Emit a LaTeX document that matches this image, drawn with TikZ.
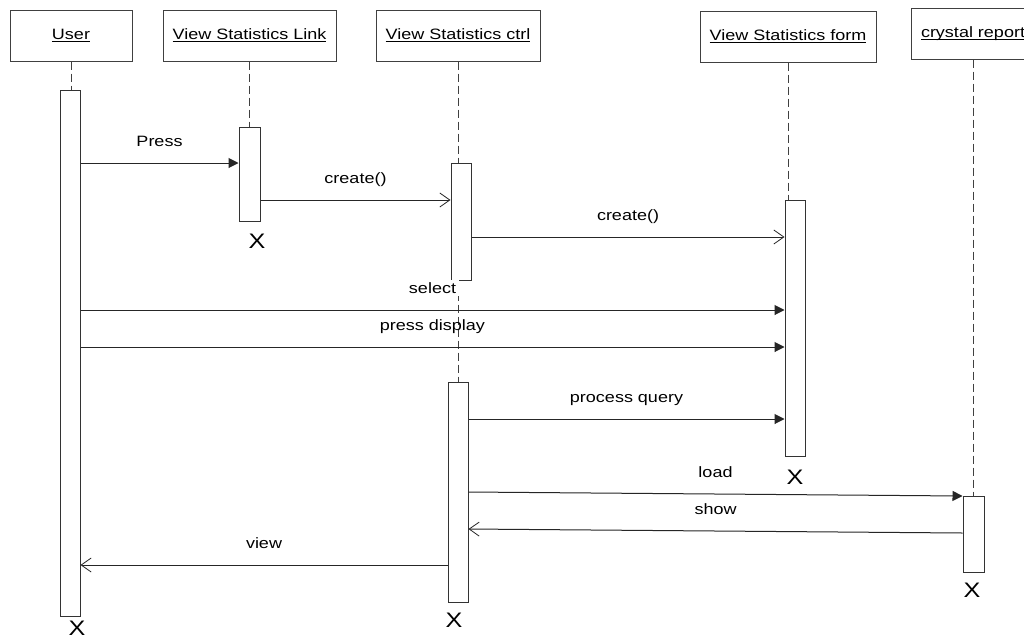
\documentclass[tikz,border=0pt]{standalone}
\usepackage{fontspec}
\setmainfont{Liberation Sans}[FakeStretch=1.2]
\usetikzlibrary{arrows.meta}
\newcommand{\hdul}[1]{\setbox0\hbox{#1}\rlap{\rule[-2.6pt]{\wd0}{0.9pt}}\box0}
\begin{document}
\begin{tikzpicture}[x=1pt,y=-1pt,
 head/.style={draw=black!75, line width=1pt, minimum height=51pt, inner sep=0pt, font=\fontsize{15}{18}\selectfont},
 bar/.style={draw=black!80, fill=white, line width=1pt, minimum width=20pt, inner sep=0pt},
 life/.style={draw=black!75, line width=1pt, dash pattern=on 8pt off 4pt},
 syncmsg/.style={draw=black!85, line width=1pt, -{Triangle[length=10pt,width=10pt]}},
 retmsg/.style={draw=black!85, line width=1pt, -{Straight Barb[length=10pt,width=14pt,line width=0.8pt]}},
 lbl/.style={midway, anchor=base, yshift=17pt, inner sep=1pt, font=\fontsize{15}{18}\selectfont, text=black},
 endx/.style={inner sep=0pt, font=\fontsize{21}{24}\selectfont}
]
\useasboundingbox (0,0) rectangle (1024,640);
\clip (0,0) rectangle (1024,640);
\fill[white] (0,0) rectangle (1024,640);

% heads
\node[head, minimum width=122pt] (uh) at (71,35.5) {\hdul{User}};
\node[head, minimum width=173pt] (lh) at (249.5,35.5) {\hdul{View Statistics Link}};
\node[head, minimum width=164pt] (ch) at (458,35.5) {\hdul{View Statistics ctrl}};
\node[head, minimum width=176pt] (fh) at (788,36.5) {\hdul{View Statistics form}};
\node[head, minimum width=124pt] (rh) at (973,33.5) {\hdul{crystal report}};

% activation bars (positions)
\path
 node[bar, minimum height=526pt, draw=none, fill=none] (ub) at (70,353) {}
 node[bar, minimum width=21pt, minimum height=94pt, draw=none, fill=none] (lb) at (249.5,174) {}
 node[bar, minimum height=117pt, draw=none, fill=none] (cb1) at (461,221.5) {}
 node[bar, minimum height=220pt, draw=none, fill=none] (cb2) at (458,492) {}
 node[bar, minimum height=256pt, draw=none, fill=none] (fb) at (795,328) {}
 node[bar, minimum width=21pt, minimum height=76pt, draw=none, fill=none] (rb) at (973.5,534) {};

% lifelines
\draw[life] (uh.south) -- (uh.south |- ub.north);
\draw[life] (lh.south) -- (lh.south |- lb.north);
\draw[life] (ch.south) -- (ch.south |- cb1.north);
\draw[life] (ch.south |- cb1.south) -- (ch.south |- cb2.north);
\draw[life] (fh.south) -- (fh.south |- fb.north);
\draw[life] (rh.south) -- (rh.south |- rb.north);

% bars drawn
\node[bar, minimum height=526pt] at (ub) {};
\node[bar, minimum width=21pt, minimum height=94pt] at (lb) {};
\node[bar, minimum height=117pt] at (cb1) {};
\node[bar, minimum height=220pt] at (cb2) {};
\node[bar, minimum height=256pt] at (fb) {};
\node[bar, minimum width=21pt, minimum height=76pt] at (rb) {};

% messages
\draw[syncmsg] (ub.east |- 0,163) -- node[lbl]{Press} (lb.west |- 0,163);
\draw[retmsg] (lb.east |- 0,200) -- node[lbl]{create()} (cb1.west |- 0,200);
\draw[retmsg] (cb1.east |- 0,237) -- node[lbl]{create()} (fb.west |- 0,237);
\draw[syncmsg] (ub.east |- 0,310) -- node[lbl, fill=white, inner sep=2.5pt]{select} (fb.west |- 0,310);
\draw[syncmsg] (ub.east |- 0,347) -- node[lbl]{press display} (fb.west |- 0,347);
\draw[syncmsg] (cb2.east |- 0,419) -- node[lbl]{process query} (fb.west |- 0,419);
\draw[syncmsg] (cb2.east |- 0,492) -- node[lbl]{load} (rb.west |- 0,496);
\draw[retmsg] (rb.west |- 0,533) -- node[lbl]{show} (cb2.east |- 0,529);
\draw[retmsg] (cb2.west |- 0,565) -- node[lbl]{view} (ub.east |- 0,565);

% destruction marks
\node[endx] (ux) at (77,628.5) {X};
\node[endx] (lx) at (257,241) {X};
\node[endx] (cx) at (454,620) {X};
\node[endx] (fx) at (795,477) {X};
\node[endx] (rx) at (972,590) {X};
\end{tikzpicture}
\end{document}
